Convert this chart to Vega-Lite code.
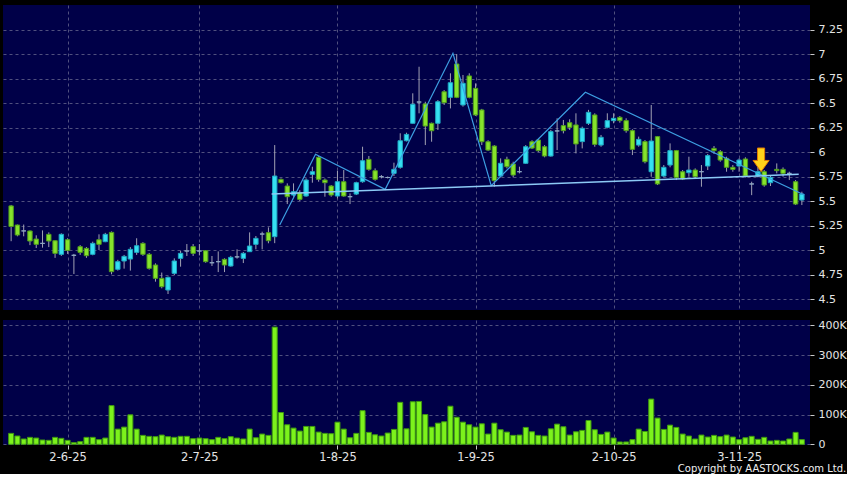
{
  "$schema": "https://vega.github.io/schema/vega-lite/v6.json",
  "background": "#000000",
  "padding": {"left": 3, "top": 5, "right": 0, "bottom": 0},
  "spacing": 9,
  "config": {
    "view": {"fill": "#000048", "stroke": null},
    "font": "DejaVu Sans",
    "axis": {
      "labelColor": "#e4e4e4",
      "labelFont": "DejaVu Sans",
      "labelFontSize": 11,
      "labelOverlap": false,
      "tickColor": "#c8c8c8",
      "gridColor": "#50507e",
      "gridDash": [3, 3],
      "gridWidth": 1,
      "domain": false,
      "title": null
    }
  },
  "title": {
    "text": "Copyright by AASTOCKS.com Ltd.",
    "orient": "bottom",
    "anchor": "end",
    "frame": "bounds",
    "font": "DejaVu Sans",
    "fontSize": 10,
    "fontWeight": "normal",
    "color": "#f0f0f0",
    "offset": 1
  },
  "datasets": {
    "k": [
      {"t":0,"o":5.45,"h":5.46,"l":5.09,"c":5.24,"v":36700},
      {"t":1,"o":5.255,"h":5.26,"l":5.14,"c":5.153,"v":27800},
      {"t":2,"o":5.195,"h":5.26,"l":5.14,"c":5.195,"v":17800},
      {"t":3,"o":5.194,"h":5.2,"l":5.05,"c":5.092,"v":23300},
      {"t":4,"o":5.112,"h":5.15,"l":5.02,"c":5.058,"v":21000},
      {"t":5,"o":5.068,"h":5.2,"l":5.024,"c":5.068,"v":14400},
      {"t":6,"o":5.16,"h":5.18,"l":5.03,"c":5.092,"v":13300},
      {"t":7,"o":5.095,"h":5.1,"l":4.92,"c":4.966,"v":23300},
      {"t":8,"o":4.956,"h":5.17,"l":4.94,"c":5.16,"v":20000},
      {"t":9,"o":5.105,"h":5.12,"l":4.96,"c":4.996,"v":13300},
      {"t":10,"o":4.946,"h":4.96,"l":4.755,"c":4.946,"v":5600},
      {"t":11,"o":5.034,"h":5.05,"l":4.95,"c":4.976,"v":8900},
      {"t":12,"o":5.017,"h":5.03,"l":4.92,"c":4.942,"v":23300},
      {"t":13,"o":4.956,"h":5.085,"l":4.946,"c":5.068,"v":23300},
      {"t":14,"o":5.105,"h":5.16,"l":5.0,"c":5.058,"v":15600},
      {"t":15,"o":5.085,"h":5.175,"l":5.08,"c":5.16,"v":21000},
      {"t":16,"o":5.18,"h":5.19,"l":4.752,"c":4.779,"v":130000},
      {"t":17,"o":4.803,"h":4.9,"l":4.79,"c":4.881,"v":51000},
      {"t":18,"o":4.888,"h":4.95,"l":4.81,"c":4.935,"v":57800},
      {"t":19,"o":4.908,"h":5.03,"l":4.79,"c":5.007,"v":98900},
      {"t":20,"o":4.976,"h":5.12,"l":4.95,"c":5.044,"v":51000},
      {"t":21,"o":5.068,"h":5.08,"l":4.94,"c":4.956,"v":30000},
      {"t":22,"o":4.956,"h":4.97,"l":4.8,"c":4.813,"v":26700},
      {"t":23,"o":4.847,"h":4.864,"l":4.677,"c":4.711,"v":25600},
      {"t":24,"o":4.711,"h":4.77,"l":4.609,"c":4.626,"v":31000},
      {"t":25,"o":4.592,"h":4.73,"l":4.551,"c":4.721,"v":25600},
      {"t":26,"o":4.762,"h":4.915,"l":4.745,"c":4.888,"v":23300},
      {"t":27,"o":4.915,"h":4.993,"l":4.83,"c":4.966,"v":26700},
      {"t":28,"o":4.99,"h":5.061,"l":4.939,"c":4.99,"v":26700},
      {"t":29,"o":5.034,"h":5.061,"l":4.939,"c":4.966,"v":18900},
      {"t":30,"o":4.99,"h":5.061,"l":4.945,"c":4.99,"v":21000},
      {"t":31,"o":4.993,"h":5.0,"l":4.87,"c":4.881,"v":18900},
      {"t":32,"o":4.87,"h":4.939,"l":4.837,"c":4.87,"v":15600},
      {"t":33,"o":4.881,"h":4.986,"l":4.775,"c":4.881,"v":23300},
      {"t":34,"o":4.905,"h":4.915,"l":4.775,"c":4.847,"v":18900},
      {"t":35,"o":4.837,"h":4.94,"l":4.83,"c":4.925,"v":25600},
      {"t":36,"o":4.93,"h":5.007,"l":4.912,"c":4.93,"v":21000},
      {"t":37,"o":4.915,"h":4.98,"l":4.867,"c":4.966,"v":17800},
      {"t":38,"o":4.983,"h":5.18,"l":4.983,"c":5.041,"v":51000},
      {"t":39,"o":5.058,"h":5.143,"l":5.007,"c":5.119,"v":22000},
      {"t":40,"o":5.163,"h":5.187,"l":5.007,"c":5.163,"v":34400},
      {"t":41,"o":5.177,"h":5.231,"l":5.069,"c":5.095,"v":30000},
      {"t":42,"o":5.136,"h":6.071,"l":5.07,"c":5.755,"v":394000},
      {"t":43,"o":5.721,"h":5.73,"l":5.68,"c":5.687,"v":106700},
      {"t":44,"o":5.653,"h":5.68,"l":5.469,"c":5.544,"v":65600},
      {"t":45,"o":5.561,"h":5.68,"l":5.544,"c":5.595,"v":54400},
      {"t":46,"o":5.585,"h":5.61,"l":5.5,"c":5.517,"v":44400},
      {"t":47,"o":5.551,"h":5.731,"l":5.544,"c":5.714,"v":60000},
      {"t":48,"o":5.772,"h":5.85,"l":5.687,"c":5.799,"v":60000},
      {"t":49,"o":5.946,"h":5.959,"l":5.697,"c":5.721,"v":41000},
      {"t":50,"o":5.714,"h":5.73,"l":5.544,"c":5.687,"v":36700},
      {"t":51,"o":5.653,"h":5.663,"l":5.544,"c":5.561,"v":35600},
      {"t":52,"o":5.551,"h":5.809,"l":5.527,"c":5.697,"v":74400},
      {"t":53,"o":5.697,"h":5.816,"l":5.544,"c":5.551,"v":51000},
      {"t":54,"o":5.544,"h":5.578,"l":5.469,"c":5.544,"v":22000},
      {"t":55,"o":5.571,"h":5.697,"l":5.561,"c":5.687,"v":36700},
      {"t":56,"o":5.697,"h":6.054,"l":5.687,"c":5.911,"v":113000},
      {"t":57,"o":5.925,"h":5.959,"l":5.809,"c":5.823,"v":40000},
      {"t":58,"o":5.809,"h":5.833,"l":5.707,"c":5.721,"v":32000},
      {"t":59,"o":5.748,"h":5.765,"l":5.731,"c":5.748,"v":27800},
      {"t":60,"o":5.74,"h":5.75,"l":5.73,"c":5.74,"v":37800},
      {"t":61,"o":5.782,"h":5.891,"l":5.755,"c":5.823,"v":50000},
      {"t":62,"o":5.844,"h":6.191,"l":5.83,"c":6.115,"v":141000},
      {"t":63,"o":6.115,"h":6.197,"l":6.108,"c":6.18,"v":52000},
      {"t":64,"o":6.293,"h":6.599,"l":6.29,"c":6.487,"v":143000},
      {"t":65,"o":6.51,"h":6.87,"l":6.395,"c":6.51,"v":144000},
      {"t":66,"o":6.49,"h":6.513,"l":6.071,"c":6.265,"v":100000},
      {"t":67,"o":6.293,"h":6.3,"l":6.105,"c":6.217,"v":57800},
      {"t":68,"o":6.293,"h":6.53,"l":6.225,"c":6.513,"v":71000},
      {"t":69,"o":6.615,"h":6.632,"l":6.48,"c":6.503,"v":75600},
      {"t":70,"o":6.558,"h":6.803,"l":6.445,"c":6.707,"v":128000},
      {"t":71,"o":6.898,"h":7.0,"l":6.55,"c":6.558,"v":91000},
      {"t":72,"o":6.48,"h":6.786,"l":6.463,"c":6.701,"v":74400},
      {"t":73,"o":6.776,"h":6.803,"l":6.548,"c":6.558,"v":65600},
      {"t":74,"o":6.65,"h":6.7,"l":6.368,"c":6.378,"v":57800},
      {"t":75,"o":6.429,"h":6.44,"l":6.071,"c":6.105,"v":68900},
      {"t":76,"o":6.105,"h":6.12,"l":6.01,"c":6.02,"v":34400},
      {"t":77,"o":6.061,"h":6.07,"l":5.646,"c":5.707,"v":71000},
      {"t":78,"o":5.755,"h":5.935,"l":5.741,"c":5.885,"v":48900},
      {"t":79,"o":5.925,"h":5.952,"l":5.833,"c":5.85,"v":41000},
      {"t":80,"o":5.878,"h":5.901,"l":5.741,"c":5.765,"v":30000},
      {"t":81,"o":5.799,"h":5.85,"l":5.782,"c":5.799,"v":31000},
      {"t":82,"o":5.885,"h":6.071,"l":5.878,"c":6.054,"v":56700},
      {"t":83,"o":6.105,"h":6.12,"l":6.03,"c":6.04,"v":42000},
      {"t":84,"o":6.122,"h":6.13,"l":6.0,"c":6.014,"v":30000},
      {"t":85,"o":6.054,"h":6.07,"l":5.946,"c":5.959,"v":27800},
      {"t":86,"o":5.959,"h":6.225,"l":5.952,"c":6.208,"v":52000},
      {"t":87,"o":6.215,"h":6.344,"l":6.02,"c":6.215,"v":67800},
      {"t":88,"o":6.269,"h":6.327,"l":6.19,"c":6.218,"v":59000},
      {"t":89,"o":6.299,"h":6.334,"l":6.225,"c":6.252,"v":31000},
      {"t":90,"o":6.276,"h":6.395,"l":5.986,"c":6.082,"v":42000},
      {"t":91,"o":6.106,"h":6.259,"l":6.037,"c":6.242,"v":46700},
      {"t":92,"o":6.293,"h":6.43,"l":6.276,"c":6.405,"v":80000},
      {"t":93,"o":6.378,"h":6.395,"l":6.054,"c":6.078,"v":48900},
      {"t":94,"o":6.071,"h":6.174,"l":6.054,"c":6.15,"v":33300},
      {"t":95,"o":6.252,"h":6.395,"l":6.242,"c":6.32,"v":41000},
      {"t":96,"o":6.32,"h":6.395,"l":6.293,"c":6.344,"v":21000},
      {"t":97,"o":6.354,"h":6.367,"l":6.299,"c":6.32,"v":7800},
      {"t":98,"o":6.32,"h":6.344,"l":6.197,"c":6.218,"v":7800},
      {"t":99,"o":6.218,"h":6.232,"l":5.969,"c":6.027,"v":15600},
      {"t":100,"o":6.071,"h":6.157,"l":6.054,"c":6.129,"v":51000},
      {"t":101,"o":6.106,"h":6.122,"l":5.884,"c":5.901,"v":43000},
      {"t":102,"o":5.799,"h":6.48,"l":5.748,"c":6.112,"v":152000},
      {"t":103,"o":6.157,"h":6.163,"l":5.663,"c":5.674,"v":88000},
      {"t":104,"o":5.755,"h":5.867,"l":5.741,"c":5.844,"v":50000},
      {"t":105,"o":5.867,"h":6.088,"l":5.844,"c":6.014,"v":64400},
      {"t":106,"o":6.014,"h":6.021,"l":5.714,"c":5.741,"v":56700},
      {"t":107,"o":5.799,"h":5.816,"l":5.714,"c":5.724,"v":34400},
      {"t":108,"o":5.789,"h":5.952,"l":5.748,"c":5.816,"v":27800},
      {"t":109,"o":5.816,"h":5.833,"l":5.731,"c":5.748,"v":17800},
      {"t":110,"o":5.799,"h":5.867,"l":5.646,"c":5.799,"v":31000},
      {"t":111,"o":5.857,"h":5.98,"l":5.816,"c":5.963,"v":24400},
      {"t":112,"o":6.037,"h":6.061,"l":5.98,"c":6.014,"v":30000},
      {"t":113,"o":6.003,"h":6.02,"l":5.901,"c":5.918,"v":25600},
      {"t":114,"o":5.935,"h":5.952,"l":5.799,"c":5.844,"v":31000},
      {"t":115,"o":5.844,"h":5.867,"l":5.799,"c":5.823,"v":24400},
      {"t":116,"o":5.857,"h":5.935,"l":5.799,"c":5.918,"v":15600},
      {"t":117,"o":5.929,"h":5.946,"l":5.741,"c":5.755,"v":22000},
      {"t":118,"o":5.674,"h":5.697,"l":5.56,"c":5.674,"v":26700},
      {"t":119,"o":5.755,"h":5.867,"l":5.741,"c":5.799,"v":16700},
      {"t":120,"o":5.799,"h":5.816,"l":5.646,"c":5.663,"v":23300},
      {"t":121,"o":5.687,"h":5.765,"l":5.653,"c":5.741,"v":11000},
      {"t":122,"o":5.823,"h":5.884,"l":5.782,"c":5.81,"v":13300},
      {"t":123,"o":5.823,"h":5.843,"l":5.748,"c":5.782,"v":11000},
      {"t":124,"o":5.782,"h":5.799,"l":5.714,"c":5.782,"v":17800},
      {"t":125,"o":5.697,"h":5.714,"l":5.459,"c":5.469,"v":40000},
      {"t":126,"o":5.51,"h":5.595,"l":5.459,"c":5.571,"v":15600}
    ],
    "zz": [
      {"t":42.8,"p":5.255},
      {"t":48.5,"p":5.977},
      {"t":59.6,"p":5.619},
      {"t":70.4,"p":7.007},
      {"t":76.5,"p":5.656},
      {"t":91.5,"p":6.609},
      {"t":126.4,"p":5.561}
    ],
    "neck": [
      {"t":41.5,"p":5.571},
      {"t":125.5,"p":5.772}
    ],
    "arrow": [
      {"t":119.5,"p":5.92}
    ]
  },
  "vconcat": [
    {
      "width": 807,
      "height": 305,
      "layer": [
        {
          "data": {"name": "k"},
          "mark": {"type": "rule", "color": "#a2a2b4", "strokeWidth": 1},
          "encoding": {
            "x": {
              "field": "t", "type": "quantitative",
              "scale": {"domain": [-0.5, 126.5], "nice": false, "zero": false},
              "axis": {"values": [9, 30, 52, 74, 96, 116], "labels": false, "ticks": false, "grid": true}
            },
            "y": {
              "field": "l", "type": "quantitative",
              "scale": {"domain": [4.388, 7.5], "nice": false, "zero": false},
              "axis": {"orient": "right", "values": [4.5, 4.75, 5, 5.25, 5.5, 5.75, 6, 6.25, 6.5, 6.75, 7, 7.25], "labelExpr": "'' + datum.value", "labelOverlap": false, "grid": true, "tickSize": 4, "labelPadding": 4}
            },
            "y2": {"field": "h"}
          }
        },
        {
          "data": {"name": "k"},
          "mark": {"type": "bar", "size": 4.4, "strokeWidth": 1, "minBandSize": 2},
          "encoding": {
            "x": {
              "field": "t", "type": "quantitative",
              "scale": {"domain": [-0.5, 126.5], "nice": false, "zero": false},
              "axis": {"values": [9, 30, 52, 74, 96, 116], "labels": false, "ticks": false, "grid": true}
            },
            "y": {
              "field": "o", "type": "quantitative",
              "scale": {"domain": [4.388, 7.5], "nice": false, "zero": false},
              "axis": {"orient": "right", "values": [4.5, 4.75, 5, 5.25, 5.5, 5.75, 6, 6.25, 6.5, 6.75, 7, 7.25], "labelExpr": "'' + datum.value", "labelOverlap": false, "grid": true, "tickSize": 4, "labelPadding": 4}
            },
            "y2": {"field": "c"},
            "fill": {
              "condition": [
                {"test": "datum.o == datum.c", "value": "#8ea8c4"},
                {"test": "datum.c > datum.o", "value": "#36e0f2"}
              ],
              "value": "#86e32c"
            },
            "stroke": {
              "condition": [
                {"test": "datum.o == datum.c", "value": "#8ea8c4"},
                {"test": "datum.c > datum.o", "value": "#1ea8c2"}
              ],
              "value": "#4f9c1c"
            }
          }
        },
        {
          "data": {"name": "zz"},
          "mark": {"type": "line", "color": "#3d9fe2", "strokeWidth": 1.2},
          "encoding": {
            "x": {
              "field": "t", "type": "quantitative",
              "scale": {"domain": [-0.5, 126.5], "nice": false, "zero": false},
              "axis": {"values": [9, 30, 52, 74, 96, 116], "labels": false, "ticks": false, "grid": true}
            },
            "y": {
              "field": "p", "type": "quantitative",
              "scale": {"domain": [4.388, 7.5], "nice": false, "zero": false},
              "axis": {"orient": "right", "values": [4.5, 4.75, 5, 5.25, 5.5, 5.75, 6, 6.25, 6.5, 6.75, 7, 7.25], "labelExpr": "'' + datum.value", "labelOverlap": false, "grid": true, "tickSize": 4, "labelPadding": 4}
            }
          }
        },
        {
          "data": {"name": "neck"},
          "mark": {"type": "line", "color": "#8ccaf6", "strokeWidth": 1.5},
          "encoding": {
            "x": {
              "field": "t", "type": "quantitative",
              "scale": {"domain": [-0.5, 126.5], "nice": false, "zero": false},
              "axis": {"values": [9, 30, 52, 74, 96, 116], "labels": false, "ticks": false, "grid": true}
            },
            "y": {
              "field": "p", "type": "quantitative",
              "scale": {"domain": [4.388, 7.5], "nice": false, "zero": false},
              "axis": {"orient": "right", "values": [4.5, 4.75, 5, 5.25, 5.5, 5.75, 6, 6.25, 6.5, 6.75, 7, 7.25], "labelExpr": "'' + datum.value", "labelOverlap": false, "grid": true, "tickSize": 4, "labelPadding": 4}
            }
          }
        },
        {
          "data": {"name": "arrow"},
          "mark": {
            "type": "point",
            "shape": "M-0.3,-1L0.3,-1L0.3,0.05L0.68,0.05L0,1L-0.68,0.05L-0.3,0.05Z",
            "size": 560,
            "filled": true,
            "fill": "#ffd21a",
            "stroke": "#e07b00",
            "strokeWidth": 1,
            "opacity": 1
          },
          "encoding": {
            "x": {
              "field": "t", "type": "quantitative",
              "scale": {"domain": [-0.5, 126.5], "nice": false, "zero": false},
              "axis": {"values": [9, 30, 52, 74, 96, 116], "labels": false, "ticks": false, "grid": true}
            },
            "y": {
              "field": "p", "type": "quantitative",
              "scale": {"domain": [4.388, 7.5], "nice": false, "zero": false},
              "axis": {"orient": "right", "values": [4.5, 4.75, 5, 5.25, 5.5, 5.75, 6, 6.25, 6.5, 6.75, 7, 7.25], "labelExpr": "'' + datum.value", "labelOverlap": false, "grid": true, "tickSize": 4, "labelPadding": 4}
            }
          }
        }
      ]
    },
    {
      "width": 807,
      "height": 125,
      "data": {"name": "k"},
      "mark": {"type": "bar", "size": 5, "fill": "#7cf21c", "stroke": "#3f9a10", "strokeWidth": 1},
      "encoding": {
        "x": {
          "field": "t", "type": "quantitative",
          "scale": {"domain": [-0.5, 126.5], "nice": false, "zero": false},
          "axis": {
            "values": [9, 30, 52, 74, 96, 116],
            "labelExpr": "datum.value == 9 ? '2-6-25' : datum.value == 30 ? '2-7-25' : datum.value == 52 ? '1-8-25' : datum.value == 74 ? '1-9-25' : datum.value == 96 ? '2-10-25' : '3-11-25'",
            "grid": true,
            "tickSize": 4,
            "labelPadding": 2,
            "labelFontSize": 11.5
          }
        },
        "y": {
          "field": "v", "type": "quantitative",
          "scale": {"domain": [-2400, 417800], "nice": false, "zero": false},
          "axis": {
            "orient": "right",
            "values": [0, 100000, 200000, 300000, 400000],
            "labelExpr": "datum.value == 0 ? '0' : (datum.value / 1000) + 'K'",
            "grid": true,
            "tickSize": 4,
            "labelPadding": 4
          }
        },
        "y2": {"datum": 0}
      }
    }
  ]
}
